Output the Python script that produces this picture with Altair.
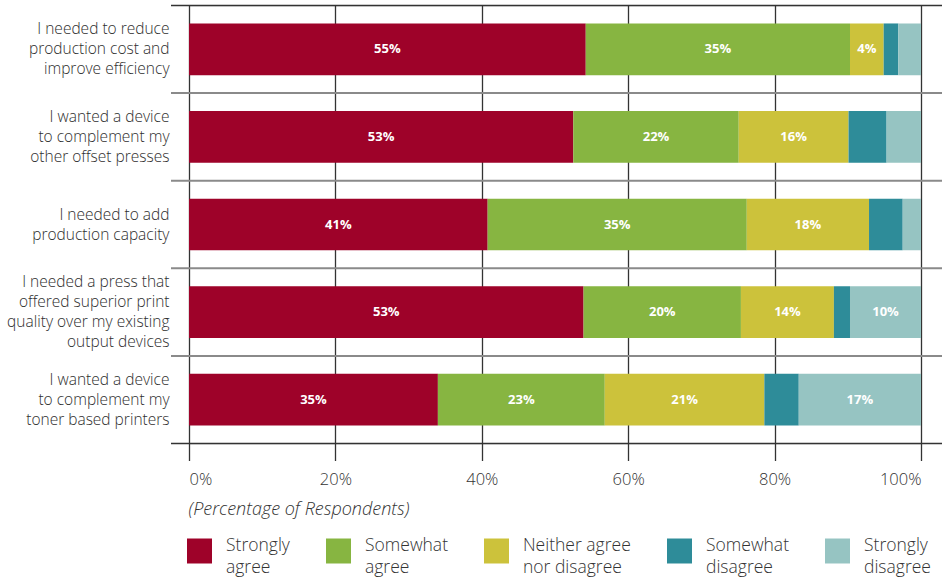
import altair as alt
import pandas as pd

categories = [
    "I needed to reduce|production cost and|improve efficiency",
    "I wanted a device|to complement my|other offset presses",
    "I needed to add|production capacity",
    "I needed a press that|offered superior print|quality over my existing|output devices",
    "I wanted a device|to complement my|toner based printers",
]
responses = ["Strongly|agree", "Somewhat|agree", "Neither agree|nor disagree",
             "Somewhat|disagree", "Strongly|disagree"]
colors = ["#9E0229", "#87B541", "#CCC23B", "#2E8C99", "#96C4C2"]

strongly_agree = [54.2, 52.5, 40.8, 53.9, 34.0]
somewhat_agree = [36.1, 22.6, 35.4, 21.5, 22.8]
neither = [4.6, 15.0, 16.7, 12.7, 21.8]
somewhat_disagree = [2.0, 5.2, 4.6, 2.2, 4.7]
strongly_disagree = [3.1, 4.7, 2.5, 9.7, 16.7]

labels_sa = ["55%", "53%", "41%", "53%", "35%"]
labels_swa = ["35%", "22%", "35%", "20%", "23%"]
labels_n = ["4%", "16%", "18%", "14%", "21%"]
labels_sd = ["", "", "", "", ""]
labels_sdis = ["", "", "", "10%", "17%"]

series = [strongly_agree, somewhat_agree, neither, somewhat_disagree, strongly_disagree]
label_series = [labels_sa, labels_swa, labels_n, labels_sd, labels_sdis]

rows = []
for ri, (vals, labs) in enumerate(zip(series, label_series)):
    for ci, cat in enumerate(categories):
        rows.append({"category": cat, "response": responses[ri], "order": ri,
                     "value": vals[ci], "label": labs[ci]})
df = pd.DataFrame(rows)

FONT = "Open Sans"
W, H = 732, 438

base = alt.Chart(df).transform_stack(
    stack="value", groupby=["category"], as_=["x0", "x1"],
    sort=[alt.SortField("order", order="ascending")]
).transform_calculate(mid="(datum.x0 + datum.x1) / 2")

yenc = alt.Y("category:N", sort=categories, title=None,
             scale=alt.Scale(paddingInner=0, paddingOuter=0),
             axis=alt.Axis(labelExpr="split(datum.label, '|')", labelFont=FONT,
                           labelFontSize=15.5, labelFontWeight=300,
                           labelColor="#2e2e2e", labelLineHeight=20,
                           labelAlign="right", labelBaseline="middle", labelPadding=20,
                           labelOffset=alt.ExprRef("-(length(split(datum.value, '|')) - 1) * 10"),
                           ticks=False, domain=False, grid=False, labelLimit=300))

xscale = alt.Scale(domain=[0, 100], nice=False, zero=True)

bars = base.mark_bar(height={"band": 0.59}).encode(
    x=alt.X("x0:Q", scale=xscale, title="(Percentage of Respondents)",
            axis=alt.Axis(values=[0, 20, 40, 60, 80, 100], labelExpr="datum.value + '%'",
                          grid=True, gridColor="#333333", gridWidth=1.3,
                          ticks=True, tickColor="#333333", tickWidth=1.3, tickSize=17,
                          domain=False, labelFont=FONT, labelFontSize=16.5,
                          labelFontWeight=300,
                          labelColor="#333333", labelPadding=11,
                          titleFont=FONT, titleFontSize=18, titleFontStyle="italic",
                          titleFontWeight=300, titleColor="#333333",
                          titleAnchor="start", titleAlign="left", titleBaseline="middle",
                          titleX=-1, titleY=66)),
    x2="x1:Q",
    y=yenc,
    color=alt.Color("response:N", scale=alt.Scale(domain=responses, range=colors),
                    legend=alt.Legend(orient="none", direction="horizontal", columns=5,
                                      legendX=-2, legendY=533, title=None,
                                      symbolType="square", symbolSize=625,
                                      symbolStrokeWidth=0, symbolOpacity=1,
                                      labelExpr="split(datum.label, '|')",
                                      labelFont=FONT, labelFontSize=17.5,
                                      labelFontWeight=300,
                                      labelColor="#333333",
                                      labelBaseline="alphabetic", labelOffset=14,
                                      columnPadding=36, labelLimit=300)),
)

text = base.mark_text(font=FONT, fontSize=13, fontWeight="bold", color="white").encode(
    x=alt.X("mid:Q", scale=xscale),
    y=alt.Y("category:N", sort=categories),
    text="label:N",
)

cat_df = pd.DataFrame({"category": categories})
top_rule = alt.Chart(cat_df.iloc[[0]]).mark_rule(color="#333333", strokeWidth=1.5).encode(
    y=alt.Y("category:N", sort=categories, bandPosition=0),
    x=alt.value(-18), x2=alt.value(753))
sep_rules = alt.Chart(cat_df.iloc[1:]).mark_rule(color="#8a8a8a", strokeWidth=2).encode(
    y=alt.Y("category:N", sort=categories, bandPosition=0),
    x=alt.value(-18), x2=alt.value(753))
bottom_rule = alt.Chart(cat_df.iloc[[-1]]).mark_rule(color="#333333", strokeWidth=1.5).encode(
    y=alt.Y("category:N", sort=categories, bandPosition=1),
    x=alt.value(-18), x2=alt.value(753))

chart = alt.layer(bars, text, top_rule, sep_rules, bottom_rule).properties(
    width=W, height=H,
    autosize=alt.AutoSizeParams(type="none"),
    padding={"left": 189, "top": 5.5, "right": 23, "bottom": 136.5},
).configure_view(stroke=None).configure(
    background="white",
    style={"guide-label": {"lineHeight": 22}},
)

chart.save("out.html", embed_options={"renderer": "svg", "actions": False})
